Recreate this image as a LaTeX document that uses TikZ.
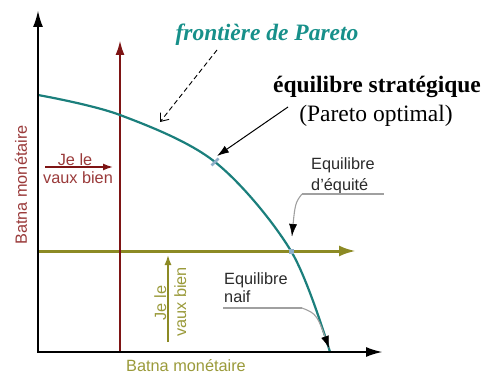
\documentclass[tikz,border=0pt]{standalone}
\usepackage{fontspec}
\setmainfont{Liberation Serif}
\setsansfont{Liberation Sans}
\usetikzlibrary{arrows.meta}
\definecolor{tealc}{HTML}{1B7F7C}
\definecolor{titlec}{HTML}{17908A}
\definecolor{redc}{HTML}{7E1414}
\definecolor{redt}{HTML}{9A3A3A}
\definecolor{olivec}{HTML}{8C8A24}
\definecolor{olivet}{HTML}{9A9A3A}
\definecolor{leadc}{HTML}{A0A0A0}
\definecolor{labc}{HTML}{2A2A2A}
\definecolor{markc}{HTML}{8FAFC8}
\begin{document}
\begin{tikzpicture}[x=1pt,y=-1pt,
  axisline/.style={line width=2.4pt,{Latex[length=17pt,width=10pt]}-{Latex[length=17pt,width=10pt]}},
  sanslab/.style={font=\sffamily\fontsize{16.3}{18}\selectfont,inner sep=0pt},
  serifbig/.style={font=\fontsize{23.5}{26}\selectfont,inner sep=0pt},
  leader/.style={leadc,line width=1.1pt},
  blacktip/.style={draw=black,fill=black,line width=0.6pt,-{Latex[length=12pt,width=8pt]}}]
\useasboundingbox (0,0) rectangle (487,374);
% coordinates
\coordinate (ytop) at (38,10);
\coordinate (orig) at (38,352);
\coordinate (xend) at (383,352);
\coordinate (r0) at (120,352);
\coordinate (r1) at (120,40);
\coordinate (g0) at (38,251);
\coordinate (g1) at (356,251);
% olive and red lines
\draw[olivec,line width=3pt,-{Latex[length=17pt,width=11pt]}] (g0) -- (g1);
\draw[redc,line width=2.5pt,-{Latex[length=15pt,width=9pt]}] (r0) -- (r1);
% frontier
\draw[tealc,line width=2.2pt] plot[smooth,tension=0.55] coordinates {(38,95) (120,115) (215,162) (291,251) (330,352)};
% axes
\draw[axisline] (ytop) -- (orig) -- (xend);
% markers
\coordinate (mstrat) at (215,162);
\coordinate (mequi) at (291,251);
\draw[markc,line width=2.5pt] (211.5,165.5) -- (218.5,158.5);
\fill[markc] (288.5,248.5) rectangle (293.5,253.5);
% title
\node[serifbig,font=\bfseries\itshape\fontsize{23.5}{26}\selectfont,text=titlec,anchor=base] (title) at (267,41) {frontière de Pareto};
\coordinate (dashstart) at (217,50);
\coordinate (dashend) at (160,122);
\draw[dashed,dash pattern=on 5pt off 3pt,line width=0.9pt,-{Straight Barb[length=7pt,width=11pt]}] (dashstart) -- (dashend);
% strategic equilibrium
\node[serifbig,font=\bfseries\fontsize{23.5}{26}\selectfont,anchor=base] (strat) at (377,93) {équilibre stratégique};
\node[serifbig,anchor=base] (pareto) at (376,122) {(Pareto optimal)};
\coordinate (sstart) at (288,107);
\draw[line width=1pt,-{Latex[length=12pt,width=8pt]}] (sstart) -- (217,156);
% Equilibre d'équité
\node[sanslab,text=labc,anchor=base west] (eq1) at (311,170) {Equilibre};
\node[sanslab,text=labc,anchor=base west] (eq2) at (311,190) {d'équité};
\coordinate (u1a) at (302,194);
\coordinate (u1b) at (384,194);
\coordinate (t1a) at (292.9,226);
\coordinate (t1b) at (292,236);
\draw[leader] (u1a) -- (u1b);
\draw[leader] (u1a) .. controls (295,203) .. (t1b);
\draw[blacktip] (t1a) -- (t1b);
% Equilibre naif
\node[sanslab,text=labc,anchor=base west] (na1) at (224,284) {Equilibre};
\node[sanslab,text=labc,anchor=base west] (na2) at (224,302) {naif};
\coordinate (u2a) at (223,308);
\coordinate (u2b) at (302,308);
\coordinate (t2a) at (325.7,338.6);
\coordinate (t2b) at (329,348);
\draw[leader] (u2a) -- (u2b);
\draw[leader] (u2b) .. controls (317,314) .. (t2b);
\draw[blacktip] (t2a) -- (t2b);
% red "je le vaux bien"
\node[sanslab,text=redt,anchor=base] (rj1) at (75,166) {Je le};
\node[sanslab,text=redt,anchor=base] (rj2) at (78,184) {vaux bien};
\coordinate (ra0) at (45,167);
\coordinate (ra1) at (113,167);
\draw[redc,line width=1.5pt,-{Latex[length=10pt,width=7pt]}] (ra0) -- (ra1);
% olive "je le vaux bien"
\node[sanslab,text=olivet,anchor=base,rotate=90] (oj1) at (166,303) {Je le};
\node[sanslab,text=olivet,anchor=base,rotate=90] (oj2) at (186,302) {vaux bien};
\coordinate (oa0) at (168,342);
\coordinate (oa1) at (168,255);
\draw[olivec,line width=1.5pt,-{Latex[length=10pt,width=7pt]}] (oa0) -- (oa1);
% axis labels
\node[sanslab,text=redt,anchor=base,rotate=90] (ylab) at (27,185) {Batna monétaire};
\node[sanslab,text=olivet,anchor=base] (xlab) at (186,371) {Batna monétaire};
\end{tikzpicture}
\end{document}
